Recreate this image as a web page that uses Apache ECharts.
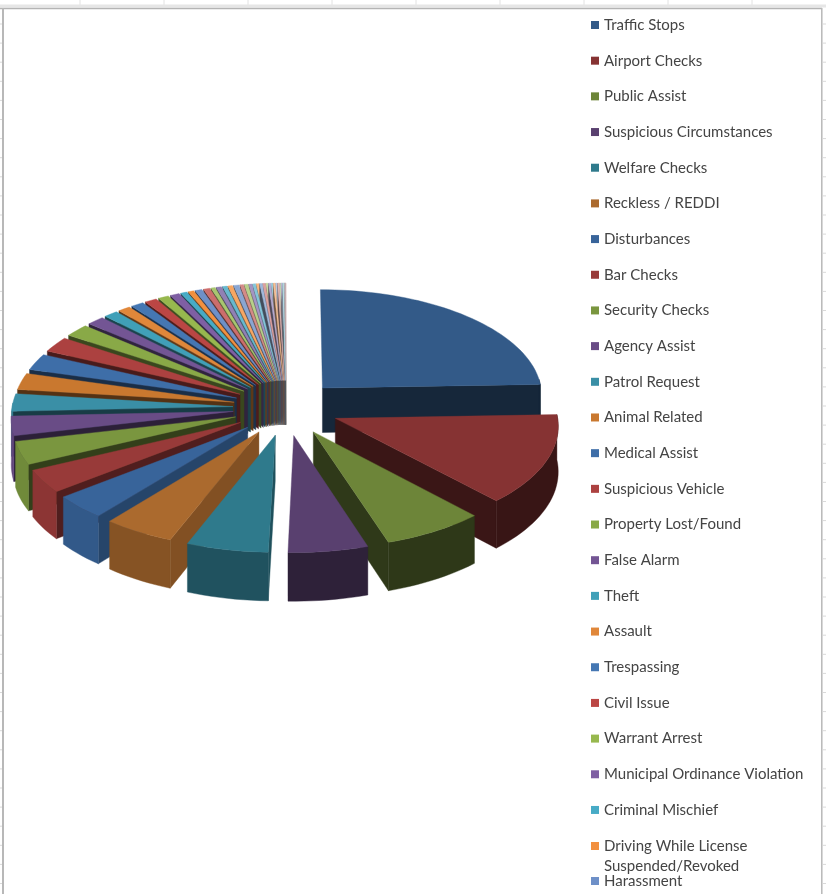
<!DOCTYPE html>
<html>
<head>
<meta charset="utf-8">
<title>Calls for Service</title>
<style>html,body{margin:0;padding:0;background:#fff}#chart{width:826px;height:894px}</style>
<script src="https://cdn.jsdelivr.net/npm/echarts@6/dist/echarts.min.js"></script>
</head>
<body>
<div id="chart"></div>
<script>
// Call types shown in the key, largest first.
const categories = [
  'Traffic Stops','Airport Checks','Public Assist','Suspicious Circumstances','Welfare Checks',
  'Reckless / REDDI','Disturbances','Bar Checks','Security Checks','Agency Assist','Patrol Request',
  'Animal Related','Medical Assist','Suspicious Vehicle','Property Lost/Found','False Alarm','Theft',
  'Assault','Trespassing','Civil Issue','Warrant Arrest','Municipal Ordinance Violation',
  'Criminal Mischief','Driving While License Suspended/Revoked','Harassment'
];
const namedValues = [880,490,250,195,200,175,130,125,125,105,95,90,90,85,70,50,40,35,36,34,30,26,18,16,20];
// Smaller call types whose names run past the end of the key.
const tailValues = [18,12,15,12,13,15,10,10,9,8,8,7,7,6,6,5,5,5,4,4,3,3,2,2,1];

// Shades per hue, darkest for the biggest slices.
const blues   = ['#335a88','#38649a','#3e6ea8','#4577b3','#6e90c8','#8aa6d2','#a0b8dc','#b4c6e2','#c6d4ea'];
const reds    = ['#863333','#983a39','#ac4140','#bb4644','#cc6d6c','#d48a88','#dca09e','#e2b4b2','#e8c6c4'];
const greens  = ['#6d8539','#7a963f','#89a947','#97b84e','#a8c66f','#b8d08a','#c6d8a0','#d0e0b4','#dce8c6'];
const purples = ['#59406f','#694c86','#735594','#7f5fa3','#9180b4','#a494c2','#b4a8ce','#c4bada','#d2cae2'];
const teals   = ['#2f7a8c','#3a8fa6','#40a0b8','#47abc6','#66b8cf','#84c6da','#9cd2e2','#b2dcea','#c4e4ee'];
const oranges = ['#ab6a2e','#c9782f','#e0873a','#f2903f','#f7a763','#f8b57e','#f7c094','#f6caa6','#f4d2b6'];
const hueRamps = [blues, reds, greens, purples, teals, oranges];

// Brightness of the rim and of the cut faces as the pie turns, in degrees clockwise from the top.
const rimLight = [[0,.42],[150,.42],[170,.5],[192,.68],[213,.8],[230,.92],[360,.92]];
const cutLight = [[0,.43],[170,.43],[203,.78],[223,.72],[236,.55],[248,.42],[360,.42]];

const allValues = namedValues.concat(tailValues);
const total = allValues.reduce((a, b) => a + b, 0);

// Projection of the tilted, exploded pie onto the page.
const view = { cx: 286, cy: 407.7, rx: 221, ry: 106.5, tilt: 0.06, explodeX: 0.24, explodeY: 0.26, height: 45 };

function lookup(table, a) {
  for (let i = 1; i < table.length; i++) {
    if (a <= table[i][0]) {
      const t = (a - table[i - 1][0]) / (table[i][0] - table[i - 1][0]);
      return table[i - 1][1] + t * (table[i][1] - table[i - 1][1]);
    }
  }
  return table[table.length - 1][1];
}
function shade(hex, f) {
  const n = parseInt(hex.slice(1), 16);
  const c = [n >> 16, (n >> 8) & 255, n & 255].map(v => Math.round(v * f));
  return 'rgb(' + c.join(',') + ')';
}
function project(u, v, drop) {
  const s = 1 / (1 - view.tilt * v);
  return [view.cx + view.rx * u * s, view.cy + view.ry * v * s + drop * view.height * s];
}
function polar(deg, r, mid) {
  const a = deg * Math.PI / 180, m = mid * Math.PI / 180;
  return [r * Math.sin(a) + view.explodeX * Math.sin(m), -r * Math.cos(a) - view.explodeY * Math.cos(m)];
}

function sliceRenderer(color) {
  return function (params, api) {
    const start = api.value(0), end = api.value(1), mid = (start + end) / 2;
    const apex = polar(0, 0, mid);
    const arc = [];
    const steps = Math.max(2, Math.ceil((end - start) / 2));
    for (let i = 0; i <= steps; i++) arc.push(start + (end - start) * i / steps);

    const children = [];
    const poly = (points, fill) => children.push({
      type: 'polygon', shape: { points: points }, style: { fill: fill, stroke: fill, lineWidth: 0.4 }
    });
    const wall = deg => {
      const p = polar(deg, 1, mid);
      poly([project(apex[0], apex[1], 0), project(p[0], p[1], 0), project(p[0], p[1], 1), project(apex[0], apex[1], 1)],
           shade(color, lookup(cutLight, mid)));
    };
    if (end > 85 && end < 181) wall(end);
    if (start > 181) wall(start);

    const rimFrom = Math.max(start, 85), rimTo = Math.min(end, 272);
    if (rimTo > rimFrom) {
      const upper = [], lower = [];
      const n = Math.max(2, Math.ceil((rimTo - rimFrom) / 2));
      for (let i = 0; i <= n; i++) {
        const p = polar(rimFrom + (rimTo - rimFrom) * i / n, 1, mid);
        upper.push(project(p[0], p[1], 0));
        lower.unshift(project(p[0], p[1], 1));
      }
      poly(upper.concat(lower), shade(color, lookup(rimLight, mid)));
    }

    const top = [project(apex[0], apex[1], 0)];
    arc.forEach(deg => { const p = polar(deg, 1, mid); top.push(project(p[0], p[1], 0)); });
    poly(top, color);
    return { type: 'group', children: children };
  };
}

// One custom series per slice: back slices get a lower z so the front ones cover them.
let running = 0;
const series = allValues.map((value, i) => {
  const start = running / total * 360;
  running += value;
  const end = running / total * 360;
  const mid = (start + end) / 2;
  const color = hueRamps[i % 6][Math.floor(i / 6)];
  return {
    type: 'custom',
    name: categories[i],
    coordinateSystem: 'none',
    silent: true,
    animation: false,
    z: 2 + Math.round(180 - Math.abs(mid - 180)),
    itemStyle: { color: color },
    data: [[start, end, value]],
    renderItem: sliceRenderer(color)
  };
});

const keyText = { fontFamily: 'Lato', fontSize: 15, color: '#444', lineHeight: 16 };
const keyBase = { orient: 'vertical', left: 591, padding: 0, icon: 'rect', itemWidth: 8, itemHeight: 8, selectedMode: false };

// Worksheet frame and the cell lines peeking out round the chart.
const frame = [];
const line = (x1, y1, x2, y2, stroke, w) => frame.push({
  type: 'line', silent: true, z: 0, shape: { x1, y1, x2, y2 }, style: { stroke, lineWidth: w }
});
for (let y = 24; y < 894; y += 19.1) {
  line(0, y, 2, y, '#d9d9d9', 1);
  line(823, y, 826, y, '#d9d9d9', 1);
}
for (let x = 80; x < 826; x += 84) line(x, 0, x, 6, '#e2e2e2', 1);
line(0, 6, 826, 6, '#e6e6e6', 3);
line(0, 8.5, 822, 8.5, '#b4b4b4', 1.5);
line(3, 8, 3, 894, '#b8b8b8', 2);
line(821.8, 8, 821.8, 894, '#b8b8b8', 1.5);

const option = {
  backgroundColor: '#fff',
  animation: false,
  graphic: { elements: frame },
  legend: [
    Object.assign({}, keyBase, { top: 17, itemGap: 19.68, textStyle: keyText, data: categories.slice(0, 23) }),
    Object.assign({}, keyBase, {
      top: 816, textStyle: Object.assign({}, keyText, { lineHeight: 20 }),
      data: categories.slice(23, 24),
      // The blank first line keeps the swatch level with the first line of the wrapped name.
      formatter: () => ' \nDriving While License\nSuspended/Revoked'
    }),
    Object.assign({}, keyBase, { top: 873, textStyle: keyText, data: categories.slice(24) })
  ],
  series: series
};
echarts.init(document.getElementById('chart'), null, { renderer: 'canvas' }).setOption(option);
</script>
</body>
</html>
